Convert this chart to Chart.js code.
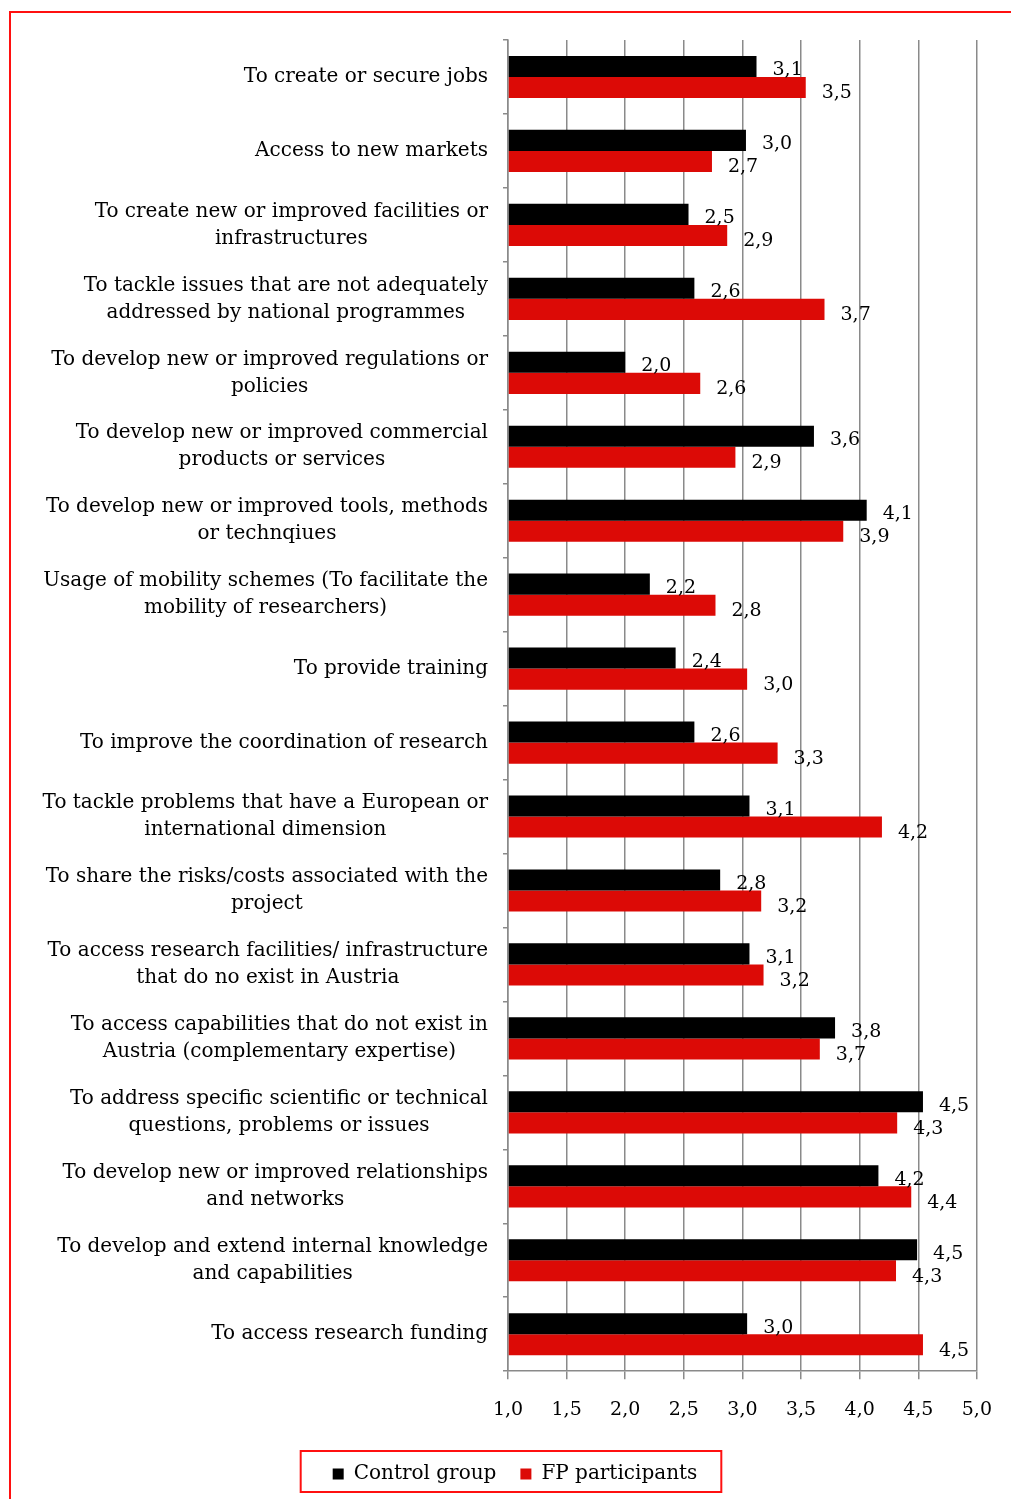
<!DOCTYPE html>
<html>
<head>
<meta charset="utf-8">
<script src="https://cdn.jsdelivr.net/npm/chart.js@4.4.1/dist/chart.umd.min.js"></script>
<style>
  html, body { margin: 0; padding: 0; background: #ffffff; }
  #wrap { position: relative; width: 1011px; height: 1499px; overflow: hidden; }
  #frame { position: absolute; left: 9px; top: 11px; width: 1100px; height: 1600px; border: 2px solid #ff1010; pointer-events: none; }
  canvas { position: absolute; left: 0; top: 0; }
</style>
</head>
<body>
<div id="wrap">
  <canvas id="c" width="1011" height="1499"></canvas>
  <div id="frame"></div>
</div>
<script>
const categories = [
  "To create or secure jobs",
  "Access to new markets",
  ["To create new or improved facilities or", "infrastructures"],
  ["To tackle issues that are not adequately", "addressed by national programmes"],
  ["To develop new or improved regulations or", "policies"],
  ["To develop new or improved commercial", "products or services"],
  ["To develop new or improved tools, methods", "or technqiues"],
  ["Usage of mobility schemes (To facilitate the", "mobility of researchers)"],
  "To provide training",
  "To improve the coordination of research",
  ["To tackle problems that have a European or", "international dimension"],
  ["To share the risks/costs associated with the", "project"],
  ["To access research facilities/ infrastructure", "that do no exist in Austria"],
  ["To access capabilities that do not exist in", "Austria (complementary expertise)"],
  ["To address specific scientific or technical", "questions, problems or issues"],
  ["To develop new or improved relationships", "and networks"],
  ["To develop and extend internal knowledge", "and capabilities"],
  "To access research funding"
];
const seriesNames = ["Control group", "FP participants"];
const controlGroup = [3.12, 3.03, 2.54, 2.59, 2.00, 3.61, 4.06, 2.21, 2.43, 2.59, 3.06, 2.81, 3.06, 3.79, 4.54, 4.16, 4.49, 3.04];
const fpParticipants = [3.54, 2.74, 2.87, 3.70, 2.64, 2.94, 3.86, 2.77, 3.04, 3.30, 4.19, 3.16, 3.18, 3.66, 4.32, 4.44, 4.31, 4.54];
const axisMin = 1.0, axisMax = 5.0, axisStep = 0.5;

const FONT = "'DejaVu Serif', 'Liberation Serif', serif";
const fmt = v => v.toFixed(1).replace('.', ',');
const PAD_LEFT = 53;

const yLabelPlugin = {
  id: 'yLabels',
  afterDraw(chart) {
    const ctx = chart.ctx;
    const ys = chart.scales.y;
    const right = chart.chartArea.left - 20;
    ctx.save();
    ctx.font = "20px " + FONT;
    ctx.fillStyle = '#000';
    ctx.textBaseline = 'middle';
    ctx.textAlign = 'center';
    categories.forEach((lab, i) => {
      const lines = Array.isArray(lab) ? lab : [lab];
      const w = Math.max(...lines.map(l => ctx.measureText(l).width));
      const cx = right - w / 2;
      const cy = ys.getPixelForTick(i);
      const lh = 27;
      lines.forEach((l, k) => {
        ctx.fillText(l, cx, cy + (k - (lines.length - 1) / 2) * lh);
      });
    });
    ctx.restore();
  }
};

const valueLabelPlugin = {
  id: 'valueLabels',
  afterDatasetsDraw(chart) {
    const ctx = chart.ctx;
    ctx.save();
    ctx.font = "19px " + FONT;
    ctx.fillStyle = '#000';
    ctx.textAlign = 'left';
    ctx.textBaseline = 'middle';
    chart.data.datasets.forEach((ds, d) => {
      const meta = chart.getDatasetMeta(d);
      meta.data.forEach((bar, i) => {
        ctx.fillText(fmt(ds.data[i]), bar.x + 16, bar.y + (d === 0 ? 4 : 6));
      });
    });
    ctx.restore();
  }
};

const legendBoxPlugin = {
  id: 'legendBox',
  afterDraw(chart) {
    const hb = chart.legend.legendHitBoxes;
    if (!hb || !hb.length) return;
    const l = Math.min(...hb.map(h => h.left)) - 32;
    const r = Math.max(...hb.map(h => h.left + h.width)) + 24;
    const cy = hb[0].top + hb[0].height / 2;
    const ctx = chart.ctx;
    ctx.save();
    ctx.strokeStyle = '#ff1010';
    ctx.lineWidth = 2;
    ctx.strokeRect(l, cy - 23, r - l, 41);
    ctx.restore();
  }
};

new Chart(document.getElementById('c'), {
  type: 'bar',
  data: {
    labels: categories,
    datasets: [
      { label: seriesNames[0], data: controlGroup, backgroundColor: '#000000', borderWidth: 0, base: axisMin },
      { label: seriesNames[1], data: fpParticipants, backgroundColor: '#dc0a06', borderWidth: 0, base: axisMin }
    ]
  },
  options: {
    indexAxis: 'y',
    responsive: false,
    animation: false,
    devicePixelRatio: 1,
    categoryPercentage: 0.57,
    barPercentage: 1.0,
    layout: { padding: { left: PAD_LEFT, right: 34, top: 40, bottom: 5 } },
    scales: {
      x: {
        type: 'linear',
        min: axisMin, max: axisMax,
        ticks: {
          stepSize: axisStep,
          callback: v => fmt(v),
          font: { family: FONT, size: 19 },
          color: '#000',
          padding: 19
        },
        grid: { color: '#8a8a8a', lineWidth: 1.5, tickLength: 8, drawTicks: true },
        border: { display: true, color: '#8a8a8a', width: 1.5 }
      },
      y: {
        type: 'category',
        offset: true,
        ticks: { display: false },
        grid: { offset: true, drawOnChartArea: false, drawTicks: true, tickLength: 5, color: '#8a8a8a', lineWidth: 1.5 },
        border: { display: true, color: '#8a8a8a', width: 1.5 },
        afterFit(scale) { scale.width = 508 - PAD_LEFT; }
      }
    },
    plugins: {
      legend: {
        position: 'bottom',
        labels: {
          boxWidth: 11, boxHeight: 11,
          font: { family: FONT, size: 20 },
          color: '#000',
          padding: 24
        }
      },
      tooltip: { enabled: false }
    }
  },
  plugins: [yLabelPlugin, valueLabelPlugin, legendBoxPlugin]
});
</script>
</body>
</html>
